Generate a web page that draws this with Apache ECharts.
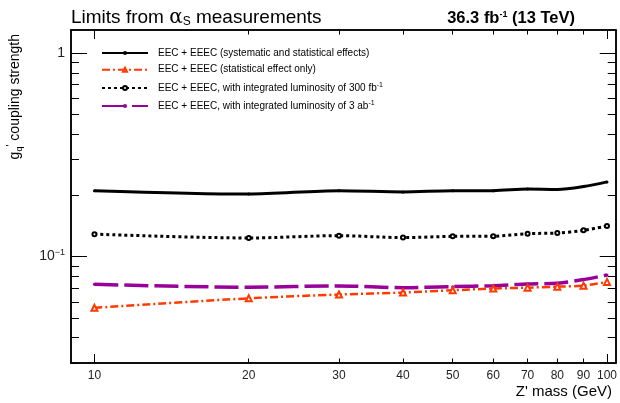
<!DOCTYPE html>
<html>
<head>
<meta charset="utf-8">
<script src="https://cdn.jsdelivr.net/npm/echarts@6/dist/echarts.min.js"></script>
<style>html,body{margin:0;padding:0;background:#fff;}#c{width:620px;height:403px;}</style>
</head>
<body>
<div id="c"></div>
<script>
var masses = [10, 20, 30, 40, 50, 60, 70, 80, 90, 100];
var sysStat = [0.211, 0.203, 0.211, 0.208, 0.211, 0.211, 0.215, 0.214, 0.221, 0.233];
var statOnly = [0.056, 0.0624, 0.0651, 0.0666, 0.0683, 0.0697, 0.0704, 0.0712, 0.0720, 0.0751];
var lumi300 = [0.129, 0.1235, 0.1268, 0.124, 0.1258, 0.126, 0.1297, 0.1307, 0.1346, 0.1415];
var lumi3ab = [0.0731, 0.0707, 0.0718, 0.0704, 0.0712, 0.0720, 0.0734, 0.074, 0.0771, 0.0813];
var seriesNames = [
  'EEC + EEEC (systematic and statistical effects)',
  'EEC + EEEC (statistical effect only)',
  'EEC + EEEC, with integrated luminosity of 300 fb^-1',
  'EEC + EEEC, with integrated luminosity of 3 ab^-1'
];
var xTickLabels = [10, 20, 30, 40, 50, 60, 70, 80, 90, 100];
var xMajorTicks = [10, 100];
var xMinorTicks = [20, 30, 40, 50, 60, 70, 80, 90];
var yMajorTicks = [0.1, 1];
var yMinorTicks = [0.03, 0.04, 0.05, 0.06, 0.07, 0.08, 0.09, 0.2, 0.3, 0.4, 0.5, 0.6, 0.7, 0.8, 0.9];
var X_MIN = 9, X_MAX = 104, Y_MIN = 0.03, Y_MAX = 1.3;

function pairs(ys) { return masses.map(function (m, i) { return [m, ys[i]]; }); }

var FONT = 'Liberation Sans, Arial, sans-serif';

function xAx(pos, ticks, len, labels) {
  return {
    type: 'log', logBase: 10, min: X_MIN, max: X_MAX, position: pos,
    axisLine: { show: true, onZero: false, lineStyle: { color: '#000', width: 1.5 } },
    axisTick: { show: true, inside: true, length: len, customValues: ticks, lineStyle: { color: '#000', width: 1 } },
    axisLabel: labels ? {
      show: true, customValues: xTickLabels, margin: 7, color: '#222', fontSize: 12, fontFamily: FONT,
      formatter: function (v) { return String(Math.round(v)); }
    } : { show: false },
    splitLine: { show: false }
  };
}
function yAx(pos, ticks, len, labels) {
  return {
    type: 'log', logBase: 10, min: Y_MIN, max: Y_MAX, position: pos,
    axisLine: { show: true, onZero: false, lineStyle: { color: '#000', width: 1.5 } },
    axisTick: { show: true, inside: true, length: len, customValues: ticks, lineStyle: { color: '#000', width: 1 } },
    axisLabel: labels ? {
      show: true, customValues: yMajorTicks, margin: 6, color: '#222', fontSize: 14, fontFamily: FONT,
      formatter: function (v) { return Math.abs(v - 1) < 1e-6 ? '1' : '{b|10}{s|\u22121}'; },
      rich: { b: { fontSize: 14, fontFamily: FONT, color: '#222' }, s: { fontSize: 9, fontFamily: FONT, color: '#222', verticalAlign: 'top', padding: [0, 0, 8, 0] } }
    } : { show: false },
    splitLine: { show: false }
  };
}

var chart = echarts.init(document.getElementById('c'), null, { renderer: 'canvas' });
var option = {
  backgroundColor: '#fff',
  animation: false,
  grid: { left: 71, right: 3, top: 30, bottom: 40, containLabel: false },
  title: [
    {
      left: 66, top: 2,
      text: '{a|Limits from }{g|\u03b1}{sub|S}{a| measurements}',
      textStyle: { fontWeight: 'normal', rich: {
        a: { fontSize: 19, fontWeight: 'normal', fontFamily: FONT, color: '#000' },
        g: { fontSize: 20, fontWeight: 'normal', fontFamily: 'DejaVu Serif, serif', color: '#000' },
        sub: { fontSize: 12, fontWeight: 'normal', fontFamily: FONT, color: '#000', padding: [9, 0, 0, 0] }
      } }
    },
    {
      right: 40, top: 5,
      text: '{b|36.3 fb}{sup|-1}{b| (13 TeV)}',
      textStyle: { rich: {
        b: { fontSize: 16.5, fontWeight: 'bold', fontFamily: FONT, color: '#000' },
        sup: { fontSize: 9, fontWeight: 'bold', fontFamily: FONT, color: '#000', padding: [0, 0, 8, 0] }
      } }
    }
  ],
  legend: {
    orient: 'vertical', left: 96, top: 43, itemWidth: 46, itemHeight: 5, itemGap: 6.7,
    textStyle: { fontSize: 10, fontFamily: FONT, color: '#000', padding: [0, 0, 0, 5],
      rich: { n: { fontSize: 10, fontFamily: FONT, color: '#000' }, sup: { fontSize: 7, fontFamily: FONT, color: '#000', padding: [0, 0, 6, 0] } } },
    formatter: function (name) {
      var m = name.match(/^(.*) (fb|ab)\^-1$/);
      if (m) return '{n|' + m[1] + ' ' + m[2] + '}{sup|-1}';
      return '{n|' + name + '}';
    },
    data: seriesNames
  },
  xAxis: [
    xAx('bottom', xMajorTicks, 9, true),
    xAx('bottom', xMinorTicks, 4.5, false),
    xAx('top', xMajorTicks, 9, false),
    xAx('top', xMinorTicks, 4.5, false)
  ],
  yAxis: [
    yAx('left', yMajorTicks, 16, true),
    yAx('left', yMinorTicks, 8, false),
    yAx('right', yMajorTicks, 16, false),
    yAx('right', yMinorTicks, 8, false)
  ],
  graphic: [
    {
      type: 'text', x: 15, y: 34, rotation: Math.PI / 2,
      style: {
        text: '{a|g}{s|q}{sup|\'}{a| coupling strength}',
        align: 'right', verticalAlign: 'middle',
        rich: {
          a: { fontSize: 14, fontFamily: FONT, fill: '#000' },
          s: { fontSize: 9, fontFamily: FONT, fill: '#000', padding: [9, 0, 0, 0] },
          sup: { fontSize: 11, fontFamily: FONT, fill: '#000', padding: [0, 0, 9, 0] }
        }
      }
    },
    {
      type: 'text', x: 612, y: 392,
      style: { text: 'Z\' mass (GeV)', align: 'right', verticalAlign: 'middle', fontSize: 15, fontFamily: FONT, fill: '#000' }
    }
  ],
  series: [
    {
      name: seriesNames[0], type: 'line', data: pairs(sysStat), smooth: 0.3,
      symbol: 'circle', symbolSize: 3, color: '#000',
      lineStyle: { color: '#000', width: 3 }, itemStyle: { color: '#000' }, z: 4
    },
    {
      name: seriesNames[1], type: 'line', data: pairs(statOnly), smooth: 0.3,
      symbol: 'emptyTriangle', symbolSize: 6, color: '#ff3a00',
      lineStyle: { color: '#ff3a00', width: 2.5, type: [8, 3, 2, 3] }, itemStyle: { color: '#ff3a00', borderWidth: 1 }, z: 5
    },
    {
      name: seriesNames[2], type: 'line', data: pairs(lumi300), smooth: 0.3,
      symbol: 'emptyCircle', symbolSize: 4, color: '#000',
      lineStyle: { color: '#000', width: 3, type: [3, 3] }, itemStyle: { color: '#000', borderWidth: 1 }, z: 4
    },
    {
      name: seriesNames[3], type: 'line', data: pairs(lumi3ab), smooth: 0.3,
      symbol: 'circle', symbolSize: 3, color: '#990099',
      lineStyle: { color: '#990099', width: 3.5, type: [24, 6] }, itemStyle: { color: '#990099' }, z: 3
    }
  ]
};
chart.setOption(option);
</script>
</body>
</html>
